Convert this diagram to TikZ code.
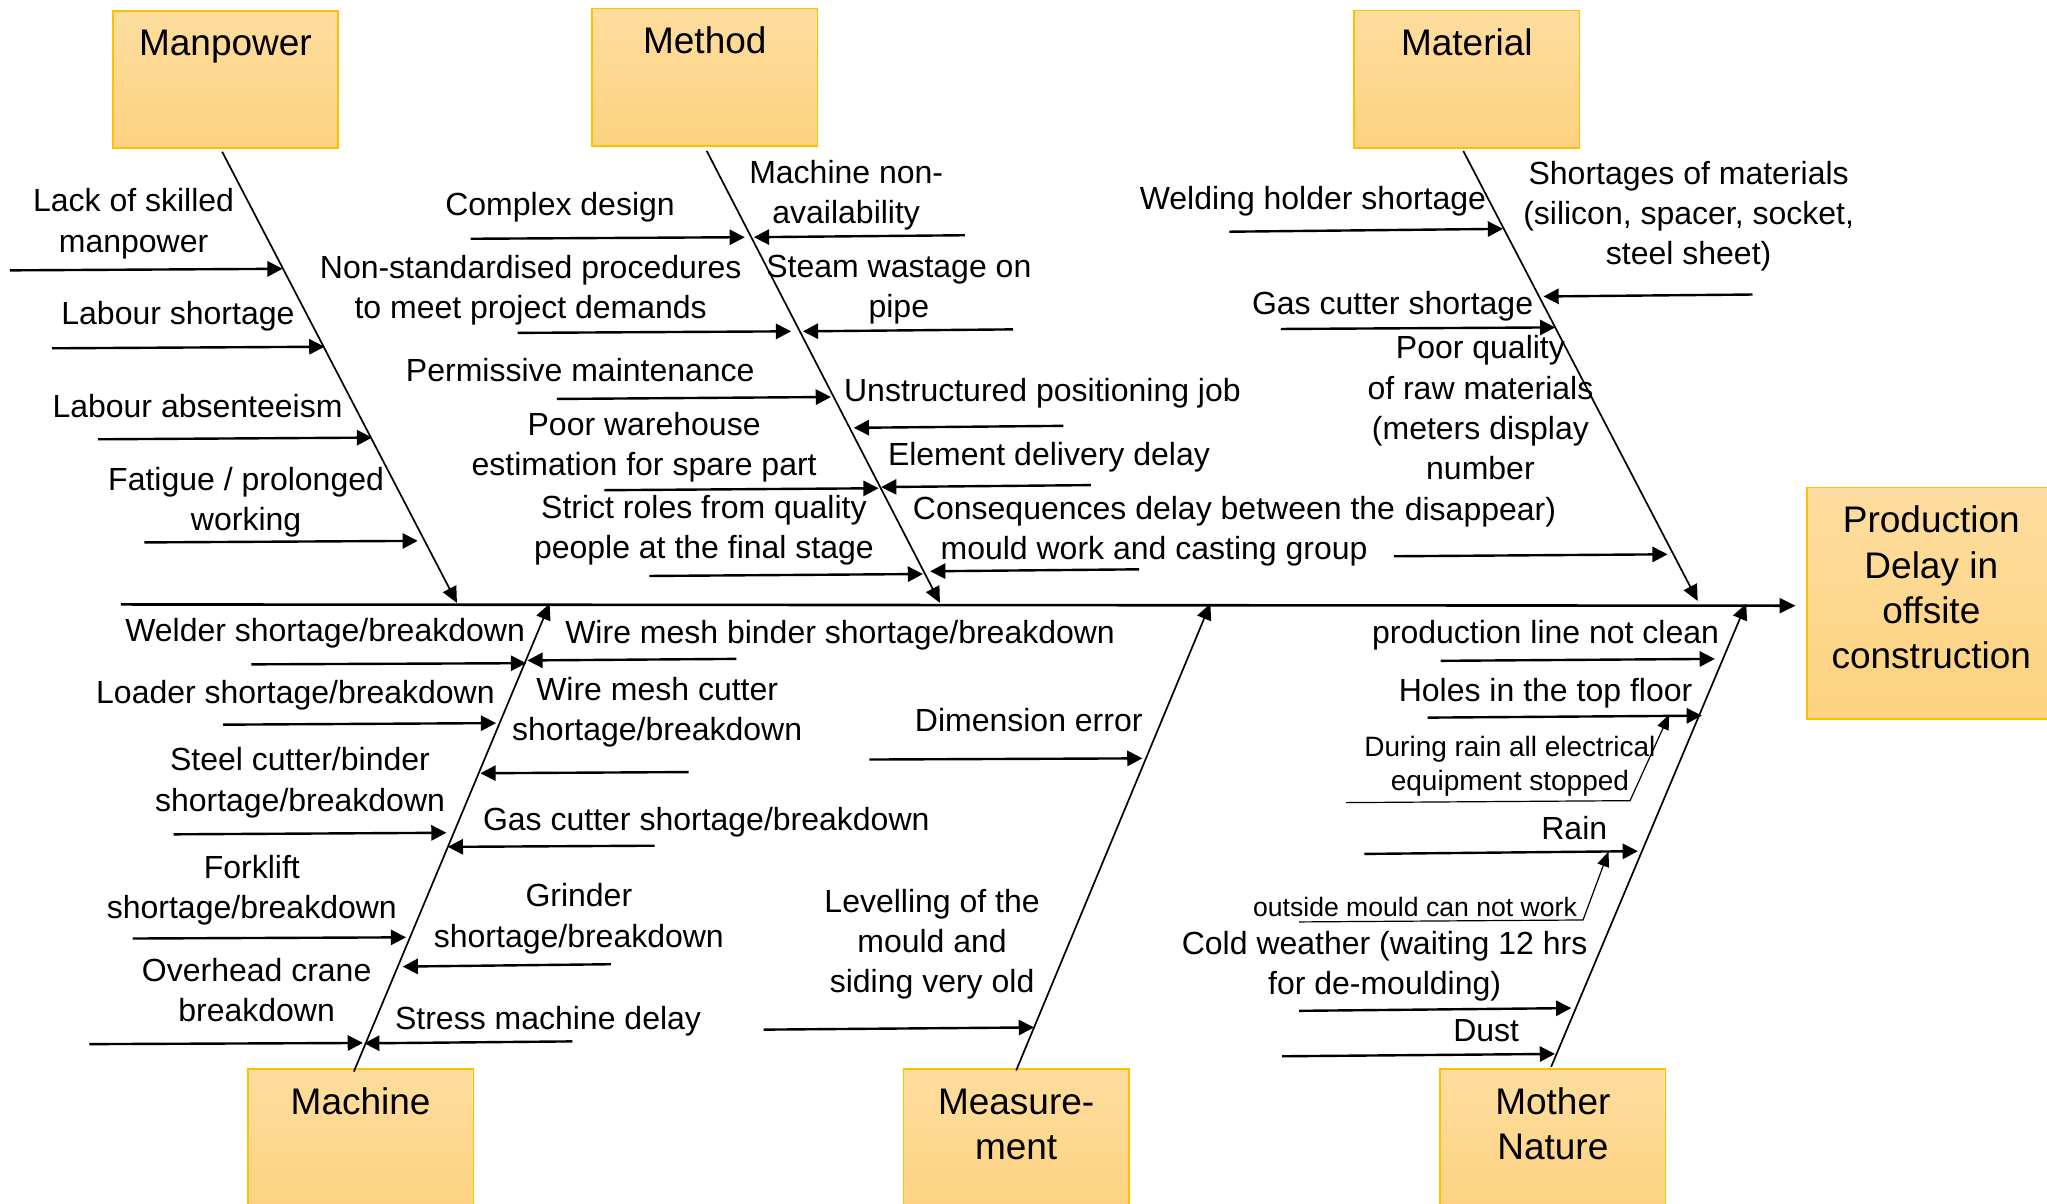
\documentclass[tikz,border=0pt]{standalone}
\usepackage{fontspec}
\setmainfont{Liberation Sans}
\usetikzlibrary{arrows.meta,calc}
\definecolor{boxtop}{RGB}{253,221,158}
\definecolor{boxbot}{RGB}{253,210,128}
\definecolor{boxline}{RGB}{255,192,0}
\newcommand{\catfont}{\fontsize{18.5}{22.65}\selectfont}
\newcommand{\cattext}[3]{\parbox[t][#2][t]{#1}{\centering\catfont\rule{0pt}{22.52pt}#3}}
\tikzset{
  catbox/.style={draw=boxline, line width=0.75pt, top color=boxtop, bottom color=boxbot, inner sep=0pt, anchor=north west},
  lbl/.style={font=\fontsize{16}{20.17}\selectfont, align=center, inner sep=0pt, yshift=-2pt,
    execute at begin node=\strut, execute at end node=\strut},
  smalllbl/.style={lbl, font=\fontsize{14}{17.2}\selectfont},
  tinylbl/.style={lbl, font=\fontsize{13.3}{17.2}\selectfont},
  br/.style={line width=1.2pt, -{Triangle[length=7.6pt,width=7.6pt]}},
  spine/.style={line width=0.85pt, -{Triangle[length=8pt,width=7.4pt]}},
  mainline/.style={line width=1.3pt, -{Triangle[length=8pt,width=7.4pt]}},
  thinarr/.style={line width=0.6pt, -{Triangle[length=7.5pt,width=6pt]}}
}
\begin{document}
\begin{tikzpicture}[x=0.65275pt, y=-0.65275pt]
\useasboundingbox (0,0) rectangle (1568,922);

% category boxes
\node[catbox] (mp) at (85.8,7.7) {\cattext{112.66pt}{68.67pt}{Manpower}};
\node[catbox] (me) at (453,6.1) {\cattext{112.66pt}{68.67pt}{Method}};
\node[catbox] (ma) at (1036.7,7.6) {\cattext{112.66pt}{68.67pt}{Material}};
\node[catbox] (prod) at (1383.4,373) {\cattext{124.55pt}{115.54pt}{Production\\Delay in\\offsite\\construction}};
\node[catbox] (mc) at (189.4,818.4) {\cattext{112.66pt}{72.85pt}{Machine}};
\node[catbox] (ms) at (691.5,818.4) {\cattext{112.66pt}{72.85pt}{Measure-\\ment}};
\node[catbox] (mn) at (1102.6,818.4) {\cattext{112.66pt}{72.85pt}{Mother\\Nature}};

% main spine
\coordinate (tail) at (92.5,463);
\draw[mainline] (tail) -- ($(prod.west)+(-8,1.9)$);

% category spines
\coordinate (mpE) at (350,461.8);
\coordinate (meE) at (720,461.8);
\coordinate (maE) at (1300.4,460.3);
\coordinate (mcE) at (421,462.4);
\coordinate (msE) at (927.1,462.4);
\coordinate (mnE) at (1337.6,462.4);
\draw[spine] ($(mp.south)+(-2.5,2.2)$) -- (mpE);
\draw[spine] ($(me.south)+(1.5,3.2)$) -- (meE);
\draw[spine] ($(ma.south)+(-2.7,1.7)$) -- (maE);
\draw[spine] ($(mc.north)+(-5.2,2.4)$) -- (mcE);
\draw[spine] ($(ms.north)+(0,1.6)$) -- (msE);
\draw[spine] ($(mn.north)+(-1.3,-1.2)$) -- (mnE);

% branch arrows
\foreach \n/\xa/\ya/\xb/\yb in {
  b1/7.5/207.1/216.5/205.9, b2/40/266.8/248.5/265.6, b3/75/336.5/285/335.2,
  b4/110.5/415.5/320/414.3, b5/360.5/182.9/570.5/181.7, b6/396.5/255/606/253.8,
  b7/426.5/305.6/636.5/304.1, b8/463/375.5/673/374, b9/497.5/441.2/707/439.7,
  b10/739/180.2/577.5/181.7, b11/776/252.3/615/253.8, b12/814.6/326.2/654/327.7,
  b13/835.6/371.6/675/373.1, b14/872.6/436.1/712.5/437.6,
  b15/941.6/177.5/1151.3/175.3, b16/1342.4/225.6/1182.3/227.1,
  b17/981.2/252/1191.3/250.8, b18/1067.8/426.1/1277.4/424.6,
  b19/192.5/508.9/403/508, b20/171/555.1/380/553.9, b21/133/639.1/342/637.9,
  b22/101.5/718.9/311/718, b23/68.5/799.8/278/798.9,
  b24/564/504.7/404/505.9, b25/527.5/591.4/368/592.3, b26/501.5/647.8/343/648.7,
  b27/468/738.6/308.5/740.4, b28/438.5/797.7/279/799.2,
  b29/666/581.8/875.1/580.9, b30/585/788.7/792/787,
  b31/1103.6/506.2/1313.6/504.7, b32/1093.6/549.7/1303.6/548.2,
  b34/1045.1/654.1/1254.6/652, b36/995.1/774.3/1203.6/772.2,
  b37/982.1/809.1/1191.1/807.3}{
  \coordinate (\n s) at (\xa,\ya);
  \coordinate (\n e) at (\xb,\yb);
  \draw[br] (\n s) -- (\n e);
}
% sub-cause polylines
\coordinate (p33s) at (1031.1,614.8);
\coordinate (p33m) at (1248.6,613.3);
\coordinate (p33e) at (1278.6,547.3);
\draw[thinarr] (p33s) -- (p33m) -- (p33e);
\coordinate (p35s) at (995.1,706.2);
\coordinate (p35m) at (1212.6,704.7);
\coordinate (p35e) at (1232.1,652.3);
\draw[thinarr] (p35s) -- (p35m) -- (p35e);

% labels
\node[lbl] (t1) at (102.3,170.5) {Lack of skilled\\manpower};
\node[lbl] (t2) at (136.3,239.6) {Labour shortage};
\node[lbl] (t3) at (151.3,310.2) {Labour absenteeism};
\node[lbl] (t4) at (188.5,383.9) {Fatigue / prolonged\\working};
\node[lbl] (t5) at (429,156) {Complex design};
\node[lbl] (t6) at (406.5,221.5) {Non-standardised procedures\\to meet project demands};
\node[lbl] (t7) at (444.5,283.2) {Permissive maintenance};
\node[lbl] (t8) at (493.4,341.5) {Poor warehouse\\estimation for spare part};
\node[lbl] (t9) at (539.2,405.4) {Strict roles from quality\\people at the final stage};
\node[lbl] (t10) at (648.2,148.4) {Machine non-\\availability};
\node[lbl] (t11) at (688.5,221) {Steam wastage on\\pipe};
\node[lbl] (t12) at (798.5,298.3) {Unstructured positioning job};
\node[lbl] (t13) at (803.5,347.7) {Element delivery delay};
\node[lbl] (t14) at (884,405.8) {Consequences delay between the\\mould work and casting group};
\node[lbl] (t15) at (1005.7,151.4) {Welding holder shortage};
\node[lbl] (t16) at (1293.5,164.7) {Shortages of materials\\(silicon, spacer, socket,\\steel sheet)};
\node[lbl] (t17) at (1066.7,231.7) {Gas cutter shortage};
\node[lbl] (t18) at (1134,329.3) {Poor quality\\of raw materials\\(meters display\\number\\disappear)};
\node[lbl] (t19) at (249,481.9) {Welder shortage/breakdown};
\node[lbl] (t20) at (643.5,483.4) {Wire mesh binder shortage/breakdown};
\node[lbl] (t21) at (226.3,529.3) {Loader shortage/breakdown};
\node[lbl] (t22) at (503.4,544.6) {Wire mesh cutter\\shortage/breakdown};
\node[lbl] (t23) at (229.8,598.5) {Steel cutter/binder\\shortage/breakdown};
\node[lbl] (t24) at (541,626.8) {Gas cutter shortage/breakdown};
\node[lbl] (t25) at (192.9,680.9) {Forklift\\shortage/breakdown};
\node[lbl] (t26) at (443.4,702.8) {Grinder\\shortage/breakdown};
\node[lbl] (t27) at (196.6,760) {Overhead crane\\breakdown};
\node[lbl] (t28) at (419.8,779.7) {Stress machine delay};
\node[lbl] (t29) at (788,550.9) {Dimension error};
\node[lbl] (t30) at (714,722.2) {Levelling of the\\mould and\\siding very old};
\node[lbl] (t31) at (1183.9,483.4) {production line not clean};
\node[lbl] (t32) at (1183.9,527.8) {Holes in the top floor};
\node[smalllbl] (t33) at (1156.6,585.7) {During rain all electrical\\equipment stopped};
\node[lbl] (t34) at (1205.9,634) {Rain};
\node[tinylbl] (t35) at (1083.9,693.4) {outside mould can not work};
\node[lbl] (t36) at (1060.6,739) {Cold weather (waiting 12 hrs\\for de-moulding)};
\node[lbl] (t37) at (1138.4,788.4) {Dust};
\end{tikzpicture}
\end{document}
